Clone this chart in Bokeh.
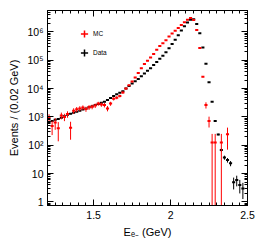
import math
from bokeh.plotting import figure
from bokeh.models import (Range1d, LogAxis, LinearAxis, FixedTicker, Legend,
                          LegendItem, ColumnDataSource, Title)
from bokeh.embed import file_html
from bokeh.resources import INLINE

# ---- data -------------------------------------------------------------
bin_width = 0.02
energy = [round(1.21 + 0.02 * i, 2) for i in range(64)]   # bin centres (GeV)

data_counts = [661, 724, 794, 851, 933, 1047, 1202, 1288, 1413, 1514,
               1660, 1820, 1995, 2188, 2399, 2630, 2884, 3162, 3467, 3981,
               4677, 5495, 6310, 7079, 8128, 10000, 12300, 15140, 18200, 21880,
               27540, 33880, 42660, 52480, 67610, 87100, 112200, 144500, 190500, 263000,
               371500, 524800, 758600, 1122000, 1585000, 2138000, 2692000, 2818000, 1905000, 891300,
               281800, 75860, 16600, 3467, 724, 240, 68, 37, 30, 23,
               5, 6, 4, 3]

mc_counts = [977, 479, 631, 398, 1122, 1000, 1259, 417, 1660, 1862,
             1995, 2138, 1905, 2188, 2291, 2512, 2951, 2754, 2630, 1995,
             2951, 4365, 4786, 5495, 7244, 10000, 13180, 17780, 24550, 35480,
             52480, 74130, 95500, 125900, 166000, 234400, 316200, 398100, 512900, 691800,
             871000, 1096000, 1380000, 1738000, 2188000, 2692000, 3090000, 2630000, 1175000, 269200,
             26300, 2630, 724, 126, 126, None, 126, None, 245, None,
             None, None, None, None]

mc_errors = [270, 250, 280, 260, 300, 290, 320, 260, 360, 380,
             400, 410, 390, 420, 430, 450, 480, 470, 460, 420,
             480, 560, 580, 620, 700, 800, 900, 1000, 1200, 1400,
             1700, 2000, 2300, 2600, 3000, 3500, 4000, 4500, 5000, 6000,
             6500, 7500, 8000, 9000, 10000, 11000, 12000, 11000, 7500, 3600,
             1150, 650, 300, 126, 126, None, 126, None, 175, None,
             None, None, None, None]

x_tick_values = [1.5, 2, 2.5]
x_tick_labels = ["1.5", "2", "2.5"]
y_tick_values = [1, 10, 100, 1000, 10000, 100000, 1000000]
y_tick_labels = ["1", "10", "10\u00b2", "10\u00b3", "10\u2074", "10\u2075", "10\u2076"]

FONT = "Liberation Sans"
LOW = 0.3   # lower clip for error bars reaching zero (below axis)

# ---- sources ----------------------------------------------------------
def build(vals, errs):
    bx0, bx1, by, ex, ey0, ey1 = [], [], [], [], [], []
    for e, v, s in zip(energy, vals, errs):
        if v is None:
            continue
        bx0.append(e - bin_width / 2); bx1.append(e + bin_width / 2); by.append(v)
        ex.append(e); ey0.append(max(v - s, LOW)); ey1.append(v + s)
    bars = ColumnDataSource(dict(x0=bx0, x1=bx1, y=by, xc=ex))
    errb = ColumnDataSource(dict(x=ex, y0=ey0, y1=ey1))
    return bars, errb

data_err = [math.sqrt(n) for n in data_counts]
d_bars, d_err = build(data_counts, data_err)
m_bars, m_err = build(mc_counts, mc_errors)

# ---- figure -----------------------------------------------------------
p = figure(width=258, height=249, x_range=Range1d(1.2, 2.5), y_range=Range1d(0.75, 5.7e6),
           y_axis_type="log", output_backend="svg", toolbar_location=None,
           min_border_left=45, min_border_right=11, min_border_top=10, min_border_bottom=44)
p.grid.visible = False
p.outline_line_color = "black"
p.outline_line_width = 1
p.background_fill_color = "white"
p.border_fill_color = "white"

x_minor = [round(1.2 + 0.05 * i, 2) for i in range(27)]
y_minor = [k * 10 ** d for d in range(-1, 7) for k in range(2, 10)]
xt = FixedTicker(ticks=x_tick_values, minor_ticks=x_minor)
yt = FixedTicker(ticks=y_tick_values, minor_ticks=y_minor)

def style(ax, labels=True):
    ax.axis_line_color = "black"
    ax.major_tick_in = 6
    ax.major_tick_out = 0
    ax.minor_tick_in = 3
    ax.minor_tick_out = 0
    ax.major_tick_line_color = "black"
    ax.minor_tick_line_color = "black"
    if labels:
        ax.major_label_text_font = FONT
        ax.major_label_text_font_size = "10.5px"
        ax.major_label_text_color = "black"
    else:
        ax.major_label_text_font_size = "0px"
        ax.major_label_standoff = 0
        ax.major_label_text_alpha = 0

xa = p.xaxis[0]
xa.ticker = xt
xa.major_label_overrides = dict(zip(x_tick_values, x_tick_labels))
xa.major_label_standoff = 5
style(xa)
xa.axis_label = "E\u2091\u208b (GeV)"
xa.axis_label_text_font = FONT
xa.axis_label_text_font_size = "11px"
xa.axis_label_text_font_style = "normal"
xa.axis_label_text_color = "black"
xa.axis_label_standoff = 4

ya = p.yaxis[0]
ya.ticker = yt
ya.major_label_overrides = dict(zip(y_tick_values, y_tick_labels))
ya.major_label_standoff = 4
style(ya)

top = LinearAxis(ticker=xt)
style(top, labels=False)
p.add_layout(top, "above")
right = LogAxis(ticker=yt)
style(right, labels=False)
p.add_layout(right, "right")

ytitle = Title(text="Events / (0.02 GeV)", align="center", text_font=FONT,
               text_font_size="11px", text_font_style="normal", text_color="black",
               standoff=10, offset=0)
p.add_layout(ytitle, "left")

# ---- marks ------------------------------------------------------------
p.segment(x0="x", y0="y0", x1="x", y1="y1", source=d_err, line_color="black", line_width=1)
p.segment(x0="x0", y0="y", x1="x1", y1="y", source=d_bars, line_color="black", line_width=2)
p.segment(x0="x", y0="y0", x1="x", y1="y1", source=m_err, line_color="red", line_width=1)
p.segment(x0="x0", y0="y", x1="x1", y1="y", source=m_bars, line_color="red", line_width=2)

# marker renderers (size 0 on the plot, they only provide the legend crosses)
leg_data = p.scatter(x="xc", y="y", source=d_bars, marker="cross", size=0,
                     line_color="black", line_width=1.5)
leg_mc = p.scatter(x="xc", y="y", source=m_bars, marker="cross", size=0,
                   line_color="red", line_width=1.5)

legend = Legend(items=[LegendItem(label="MC", renderers=[leg_mc]),
                       LegendItem(label="Data", renderers=[leg_data])],
                location=(28, 143), glyph_width=18, glyph_height=19, spacing=0,
                padding=0, margin=0, label_standoff=-2,
                label_text_font=FONT, label_text_font_size="6.5px",
                label_text_color="black",
                background_fill_alpha=0, border_line_alpha=0)
p.add_layout(legend)

open("out.html", "w").write(file_html(p, INLINE))
